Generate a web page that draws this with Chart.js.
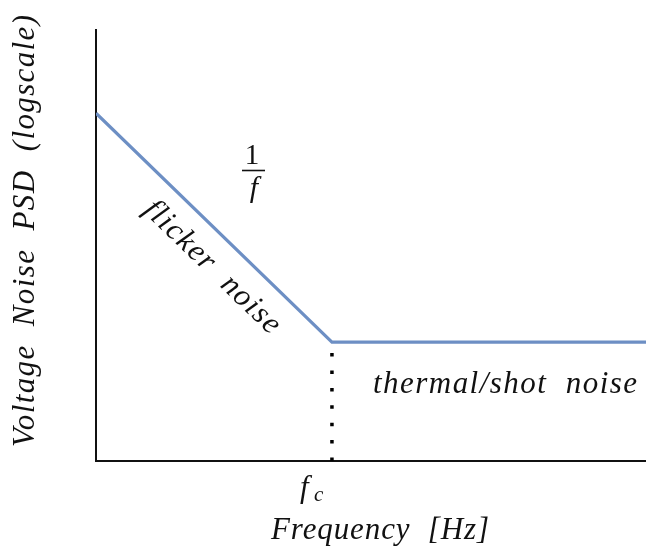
<!DOCTYPE html>
<html>
<head>
<meta charset="utf-8">
<script src="https://cdn.jsdelivr.net/npm/chart.js@4.4.0/dist/chart.umd.min.js"></script>
<style>
  html, body { margin: 0; padding: 0; background: #fff; }
  #wrap { width: 646px; height: 548px; position: relative; }
</style>
</head>
<body>
<div id="wrap"><canvas id="noise"></canvas></div>
<script>
// Piecewise noise spectrum: 1/f region down to the corner, then flat floor.
const frequency = [0, 4.29, 10];
const psd = [8.07, 2.76, 2.76];

// Corner-frequency marker (dotted drop from the knee to the axis).
const cornerFrequency = [4.29, 4.29];
const cornerLevel = [0, 2.76];

const xTitle = 'Frequency  [Hz]';
const yTitle = 'Voltage  Noise  PSD  (logscale)';
const slopeLabel = 'flicker  noise';
const floorLabel = 'thermal/shot  noise';

const MATH = "'Liberation Serif', 'Times New Roman', serif";

function toPoints(xs, ys) {
  return xs.map((x, i) => ({ x: x, y: ys[i] }));
}

// Draw text with letter spacing stretched so it spans a given width.
function spanText(ctx, text, x, y, size, width) {
  ctx.font = 'italic ' + size + 'px ' + MATH;
  ctx.letterSpacing = '0px';
  const w = ctx.measureText(text).width;
  const extra = width ? (width - w) / Math.max(1, text.length - 1) : 0;
  ctx.letterSpacing = extra + 'px';
  ctx.textAlign = 'left';
  ctx.fillText(text, x, y);
  ctx.letterSpacing = '0px';
}

const annotations = {
  id: 'annotations',
  afterDatasetsDraw(chart) {
    const ctx = chart.ctx;
    const xs = chart.scales.x, ys = chart.scales.y;
    ctx.save();
    ctx.fillStyle = '#111';
    ctx.strokeStyle = '#111';
    ctx.textBaseline = 'alphabetic';

    // Axis titles
    spanText(ctx, xTitle, 271, 539, 31, 218);
    ctx.save();
    ctx.translate(34, 447);
    ctx.rotate(-Math.PI / 2);
    spanText(ctx, yTitle, 0, 0, 31, 432);
    ctx.restore();

    // f_c under the knee
    const fcX = xs.getPixelForValue(cornerFrequency[0]);
    ctx.font = 'italic 31px ' + MATH;
    ctx.textAlign = 'left';
    ctx.fillText('f', fcX - 32, 497);
    ctx.font = 'italic 21px ' + MATH;
    ctx.fillText('c', fcX - 18, 501);

    // 1/f fraction above the sloped segment
    ctx.font = '29px ' + MATH;
    ctx.textAlign = 'center';
    ctx.fillText('1', 252, 164);
    ctx.lineWidth = 1.6;
    ctx.beginPath();
    ctx.moveTo(242, 170.5);
    ctx.lineTo(265, 170.5);
    ctx.stroke();
    ctx.font = 'italic 30px ' + MATH;
    ctx.fillText('f', 254, 197);

    // Label running along the sloped segment
    const x0 = xs.getPixelForValue(frequency[0]), y0 = ys.getPixelForValue(psd[0]);
    const x1 = xs.getPixelForValue(frequency[1]), y1 = ys.getPixelForValue(psd[1]);
    const ang = Math.atan2(y1 - y0, x1 - x0);
    const len = Math.hypot(x1 - x0, y1 - y0);
    const t = 0.58 * len, off = 30;
    const cx = x0 + Math.cos(ang) * t - Math.sin(ang) * off;
    const cy = y0 + Math.sin(ang) * t + Math.cos(ang) * off;
    ctx.save();
    ctx.translate(cx, cy);
    ctx.rotate(ang);
    ctx.textBaseline = 'middle';
    spanText(ctx, slopeLabel, -89, 0, 31, 178);
    ctx.restore();

    // Label under the flat floor
    ctx.textBaseline = 'alphabetic';
    spanText(ctx, floorLabel, 373, 393, 31, 264);

    ctx.restore();
  }
};

new Chart(document.getElementById('noise'), {
  type: 'scatter',
  data: {
    datasets: [
      {
        data: toPoints(frequency, psd),
        showLine: true,
        borderColor: '#6d8fc4',
        borderWidth: 3.2,
        pointRadius: 0,
        tension: 0,
        order: 1
      },
      {
        data: toPoints(cornerFrequency, cornerLevel),
        showLine: true,
        borderColor: '#000',
        borderWidth: 3.5,
        borderDash: [3.5, 13.9],
        borderCapStyle: 'butt',
        pointRadius: 0,
        order: 2
      }
    ]
  },
  options: {
    responsive: true,
    maintainAspectRatio: false,
    animation: false,
    layout: { padding: { left: 96, top: 30, right: 0, bottom: 87 } },
    plugins: { legend: { display: false }, tooltip: { enabled: false } },
    scales: {
      x: {
        type: 'linear', min: 0, max: 10,
        grid: { display: false, drawTicks: false },
        ticks: { display: false },
        border: { display: true, color: '#111', width: 2 }
      },
      y: {
        type: 'linear', min: 0, max: 10,
        grid: { display: false, drawTicks: false },
        ticks: { display: false },
        border: { display: true, color: '#111', width: 2 }
      }
    }
  },
  plugins: [annotations]
});
</script>
</body>
</html>
